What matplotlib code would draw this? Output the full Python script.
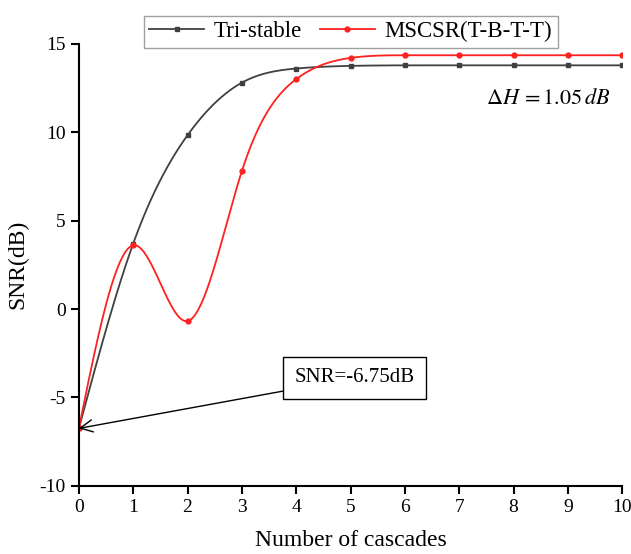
import numpy as np
import matplotlib
matplotlib.use("Agg")
import matplotlib.pyplot as plt

# values
cascades = [0, 1, 2, 3, 4, 5, 6, 7, 8, 9, 10]
snr_tristable = [-6.75, 3.7, 9.83, 12.8, 13.6, 13.75, 13.78, 13.78, 13.78, 13.78, 13.78]
snr_mscsr = [-6.75, 3.6, -0.68, 7.8, 13.0, 14.2, 14.35, 14.35, 14.35, 14.35, 14.35]

x_ticks = list(range(0, 11))
y_ticks = [-10, -5, 0, 5, 10, 15]


def natural_spline(x, y, n=400):
    """Smooth line through the points (natural cubic spline), for drawing only."""
    x = np.asarray(x, float)
    y = np.asarray(y, float)
    h = np.diff(x)
    m = len(x)
    A = np.zeros((m, m))
    b = np.zeros(m)
    A[0, 0] = A[-1, -1] = 1
    for i in range(1, m - 1):
        A[i, i - 1] = h[i - 1]
        A[i, i] = 2 * (h[i - 1] + h[i])
        A[i, i + 1] = h[i]
        b[i] = 3 * ((y[i + 1] - y[i]) / h[i] - (y[i] - y[i - 1]) / h[i - 1])
    c = np.linalg.solve(A, b)
    xs = np.linspace(x[0], x[-1], n)
    idx = np.clip(np.searchsorted(x, xs) - 1, 0, m - 2)
    dx = xs - x[idx]
    hi = h[idx]
    bb = (y[idx + 1] - y[idx]) / hi - hi * (2 * c[idx] + c[idx + 1]) / 3
    dd = (c[idx + 1] - c[idx]) / (3 * hi)
    ys = y[idx] + bb * dx + c[idx] * dx ** 2 + dd * dx ** 3
    return xs, ys


plt.rcParams['font.family'] = ['Liberation Serif', 'DejaVu Serif']
plt.rcParams['mathtext.fontset'] = 'stix'
plt.rcParams['axes.unicode_minus'] = False

fig = plt.figure(figsize=(6.31, 5.54), dpi=100)
ax = fig.add_axes([0.125, 0.123, 0.861, 0.798])

black = '#404040'
red = '#ff2020'

xs, ys = natural_spline(cascades, snr_tristable)
ax.plot(xs, ys, color=black, lw=1.3)
ax.plot(cascades, snr_tristable, 's', color=black, ms=3.5)
xs, ys = natural_spline(cascades, snr_mscsr)
ax.plot(xs, ys, color=red, lw=1.3)
ax.plot(cascades, snr_mscsr, 'o', color=red, ms=3.5)

# legend proxies
h1, = ax.plot([], [], '-s', color=black, lw=1.3, ms=3.5, label='Tri-stable')
h2, = ax.plot([], [], '-o', color=red, lw=1.3, ms=3.5, label='MSCSR(T-B-T-T)')
leg = ax.legend(handles=[h1, h2], loc='lower center', bbox_to_anchor=(0.5, 0.99),
                ncol=2, fontsize=16.5, frameon=True, fancybox=False,
                handlelength=2.4, columnspacing=0.8, handletextpad=0.4,
                borderpad=0.25, borderaxespad=0.0)
leg.get_frame().set_edgecolor('#888888')
leg.get_frame().set_linewidth(1.0)

ax.annotate('SNR=-6.75dB', xy=(0, -6.75), xytext=(5.08, -3.9),
            fontsize=15, ha='center', va='center',
            bbox=dict(boxstyle='square,pad=0.55', fc='white', ec='black', lw=1.0),
            arrowprops=dict(arrowstyle='->', color='black', lw=1.0,
                            mutation_scale=22, shrinkA=0, shrinkB=0))

ax.text(8.64, 11.85, r'$\Delta H\,=1.05\,dB$', fontsize=16, ha='center', va='center')

ax.set_xlim(0, 10)
ax.set_ylim(-10, 15)
ax.set_xticks(x_ticks)
ax.set_yticks(y_ticks)
ax.spines['top'].set_visible(False)
ax.spines['right'].set_visible(False)
ax.spines['left'].set_linewidth(1.5)
ax.spines['bottom'].set_linewidth(1.5)
ax.tick_params(direction='out', length=6, width=1.5, labelsize=14)

ax.set_xlabel('Number of cascades', fontsize=17, labelpad=10)
ax.set_ylabel('SNR(dB)', fontsize=17, labelpad=8)

fig.savefig('out.png', dpi=100)
